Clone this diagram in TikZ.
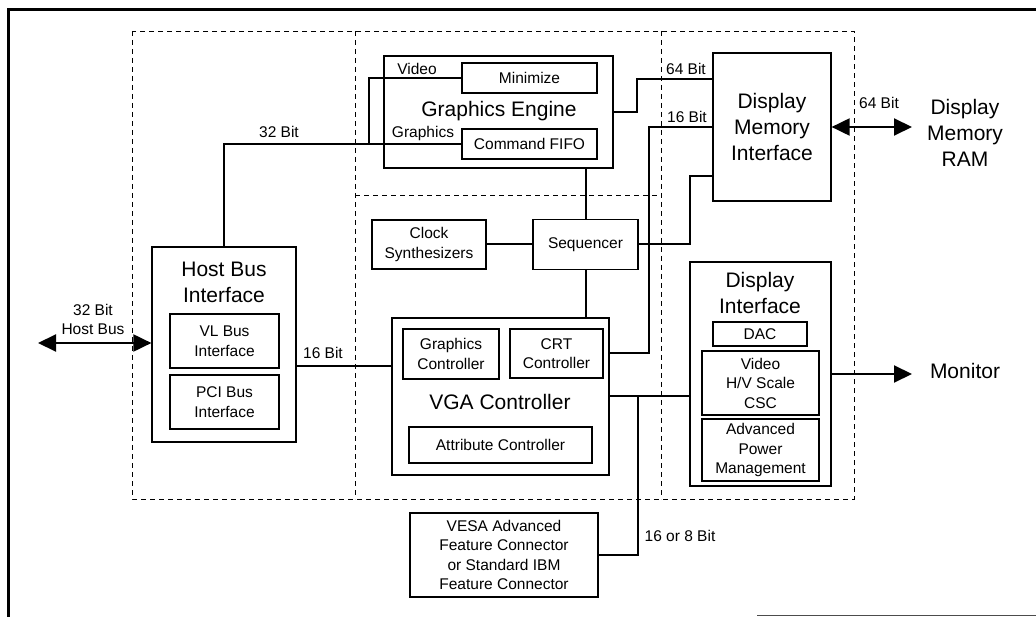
\documentclass[tikz,border=0pt]{standalone}
\usepackage{fontspec}
\setmainfont{Liberation Sans}
\usetikzlibrary{arrows.meta}
\newcommand\fsmall{\fontsize{15.5}{19.5}\selectfont}
\newcommand\fbig{\fontsize{21}{26}\selectfont}
\tikzset{
  box/.style={draw, line width=1.2pt, inner sep=0pt, align=center, font=\fsmall},
  conn/.style={line width=2pt},
  region/.style={line width=0.9pt, dash pattern=on 5pt off 4pt},
  lbl/.style={inner sep=0pt, font=\fsmall, align=center},
  ttl/.style={inner sep=0pt, font=\fbig, align=center},
  tip/.style={-{Triangle[length=18pt,width=17pt]}},
  dtip/.style={{Triangle[length=18pt,width=17pt]}-{Triangle[length=18pt,width=17pt]}}
}
\begin{document}
\begin{tikzpicture}[x=1pt,y=-1pt]
\useasboundingbox (0,0) rectangle (1036,617);
% frame
\draw[line width=3pt] (8.5,617) -- (8.5,10) -- (1036,10);
\draw[line width=1pt, black!70] (757,615.5) -- (1036,615.5);
% dashed regions
\draw[region] (132,31) rectangle (854,499);
\draw[region] (355,31) -- (355,499);
\draw[region] (661,31) -- (661,499);
\draw[region] (355,195) -- (661,195);

% Graphics engine
\node[box, minimum width=229pt, minimum height=112pt] (ge) at (498.5,112) {};
\node[ttl] (getitle) at (499,111) {Graphics Engine};
\node[box, minimum width=135pt, minimum height=30pt] (mini) at (529.5,78) {Minimize};
\node[box, minimum width=135pt, minimum height=30pt] (cfifo) at (529.5,144) {Command FIFO};
\node[lbl] (lvideo) at (417,69) {Video};
\node[lbl] (lgraph) at (423,133) {Graphics};

% Host bus interface
\node[box, minimum width=144pt, minimum height=195pt] (hbi) at (224,344.5) {};
\node[ttl] (hbititle) at (224,282) {Host Bus\\Interface};
\node[box, minimum width=109pt, minimum height=54pt] (vl) at (224.5,341) {VL Bus\\Interface};
\node[box, minimum width=109pt, minimum height=54pt] (pci) at (224.5,402) {PCI Bus\\Interface};

% VGA controller
\node[box, minimum width=217pt, minimum height=157pt] (vga) at (500.5,396.5) {};
\node[ttl] (vgatitle) at (500,402) {VGA Controller};
\node[box, minimum width=96pt, minimum height=50pt] (gc) at (451,354) {Graphics\\Controller};
\node[box, minimum width=93pt, minimum height=49pt] (crt) at (556.5,353.5) {CRT\\Controller};
\node[box, minimum width=183pt, minimum height=36pt] (attr) at (500.5,445) {Attribute Controller};

% clock / sequencer
\node[box, minimum width=114pt, minimum height=49pt] (clk) at (429,244.5) {Clock\\Synthesizers};
\node[box, minimum width=105pt, minimum height=50pt] (seq) at (585.5,244.5) {Sequencer};

% display memory interface
\node[box, font=\fbig, minimum width=118pt, minimum height=148pt] (dmi) at (772,127) {Display\\Memory\\Interface};

% display interface
\node[box, minimum width=141pt, minimum height=224pt] (di) at (760.5,374) {};
\node[ttl] (dititle) at (760,292.5) {Display\\Interface};
\node[box, minimum width=94pt, minimum height=24pt] (dac) at (760,334) {DAC};
\node[box, minimum width=117pt, minimum height=64pt] (vid) at (760.5,383) {Video\\H/V Scale\\CSC};
\node[box, minimum width=117pt, minimum height=62pt] (apm) at (760.5,450) {Advanced\\Power\\Management};

% VESA
\node[box, minimum width=188pt, minimum height=84pt] (vesa) at (504,555) {VESA Advanced\\Feature Connector\\or Standard IBM\\Feature Connector};

% outside texts
\node[ttl] (ram) at (965,133) {Display\\Memory\\RAM};
\node[ttl] (mon) at (965,371) {Monitor};

% labels
\node[lbl] (l32) at (279,132) {32 Bit};
\node[lbl] (lhost) at (93,319.5) {32 Bit\\Host Bus};
\node[lbl] (l16a) at (323,353) {16 Bit};
\node[lbl] (l64a) at (686,69) {64 Bit};
\node[lbl] (l16b) at (687,117) {16 Bit};
\node[lbl] (l64b) at (879,103) {64 Bit};
\node[lbl] (l168) at (680,536) {16 or 8 Bit};

% coordinates
\coordinate (j1) at (369,144);
\coordinate (c64) at (637,79);
\coordinate (c16) at (649,127);
\coordinate (cs) at (690,176);
\coordinate (h16) at (296,366);
\coordinate (j2) at (638,396.5);
\coordinate (hostL) at (38,343);
\coordinate (ramL) at (912,127);
\coordinate (monL) at (912,374);

% connectors
\draw[conn] (hbi.north) |- (cfifo.west);
\draw[conn] (j1) |- (mini.west);
\draw[conn] (ge.east) -| (c64) -- (c64 -| dmi.west);
\draw[conn] (crt.east -| vga.east) -| (c16) -- (c16 -| dmi.west);
\draw[conn] (seq.east) -| (cs) -- (cs -| dmi.west);
\draw[conn] (clk.east) -- (seq.west);
\draw[conn] (seq.north) -- (seq.north |- ge.south);
\draw[conn] (seq.south) -- (seq.south |- vga.north);
\draw[conn] (h16) -- (h16 -| vga.west);
\draw[conn] (vga.east) -- (vga.east -| di.west);
\draw[conn] (j2) |- (vesa.east);
\draw[conn, dtip] (hostL) -- (hostL -| hbi.west);
\draw[conn, dtip] (dmi.east) -- (ramL);
\draw[conn, tip] (di.east) -- (monL);
\end{tikzpicture}
\end{document}
